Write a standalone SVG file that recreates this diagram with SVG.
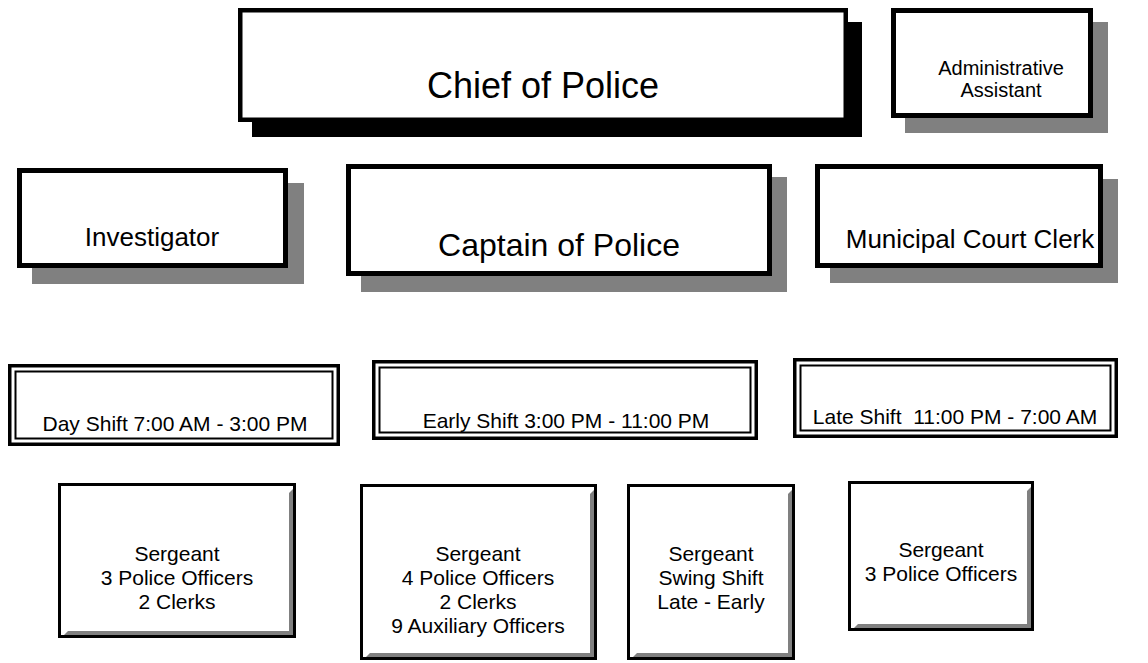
<svg xmlns="http://www.w3.org/2000/svg" width="1148" height="663" viewBox="0 0 1148 663">
<style>
text{font-family:"Liberation Sans",Arial,sans-serif;fill:#000;text-anchor:middle}
.box{fill:#fff;stroke:#000}
.sh{fill:#808080}
.shk{fill:#000}
.b5{stroke-width:5}
.b4{stroke-width:4.5}
.dbl{fill:#fff;stroke:#000;stroke-width:3.5}
.dbli{fill:none;stroke:#000;stroke-width:2}
.sg{fill:#fff;stroke:#000;stroke-width:3}
.f36{font-size:36px}.f32{font-size:32px}.f26{font-size:26px}.f21{font-size:21px}.f20{font-size:20px}
</style>
<rect width="1148" height="663" fill="#fff"/>
<g id="connectors"></g>
<g id="chief">
<rect class="shk" x="252" y="22" width="610" height="115"/>
<rect class="box b4" x="240.25" y="10.25" width="605.5" height="109.5"/>
<text class="f36" x="543" y="98">Chief of Police</text>
</g>
<g id="admin">
<rect class="sh" x="905" y="22" width="203" height="111"/>
<rect class="box b5" x="893.5" y="10.5" width="197" height="105"/>
<text class="f20" x="1001" y="75">Administrative</text>
<text class="f20" x="1001" y="97">Assistant</text>
</g>
<g id="investigator">
<rect class="sh" x="32" y="183" width="272" height="101"/>
<rect class="box b5" x="19.5" y="170.5" width="266" height="95"/>
<text class="f26" x="152" y="246">Investigator</text>
</g>
<g id="captain">
<rect class="sh" x="361" y="177" width="426" height="115"/>
<rect class="box b5" x="348.5" y="166.5" width="421" height="107"/>
<text class="f32" x="559" y="256">Captain of Police</text>
</g>
<g id="clerk">
<rect class="sh" x="830" y="179" width="288" height="104"/>
<rect class="box b5" x="817.5" y="166.5" width="283" height="99"/>
<text class="f26" x="970" y="248">Municipal Court Clerk</text>
</g>
<g id="day">
<rect class="dbl" x="9.75" y="365.75" width="328.5" height="78.5"/>
<rect class="dbli" x="15.5" y="371.5" width="317" height="67"/>
<text class="f21" x="175" y="431">Day Shift 7:00 AM - 3:00 PM</text>
</g>
<g id="early">
<rect class="dbl" x="373.75" y="361.75" width="382.5" height="76.5"/>
<rect class="dbli" x="379.5" y="367.5" width="371" height="65"/>
<text class="f21" x="566" y="428">Early Shift 3:00 PM - 11:00 PM</text>
</g>
<g id="late">
<rect class="dbl" x="794.75" y="359.75" width="321.5" height="76.5"/>
<rect class="dbli" x="800.5" y="365.5" width="310" height="65"/>
<text class="f21" x="955" y="424" xml:space="preserve">Late Shift  11:00 PM - 7:00 AM</text>
</g>
<g id="sgt1">
<rect class="sg" x="59.5" y="484.5" width="235" height="152"/>
<path class="sh" d="M293,489 V635 H64 L68,631 H289 V493 Z"/>
<text class="f21" x="177" y="561">Sergeant</text>
<text class="f21" x="177" y="585">3 Police Officers</text>
<text class="f21" x="177" y="609">2 Clerks</text>
</g>
<g id="sgt2">
<rect class="sg" x="361.5" y="485.5" width="234" height="173"/>
<path class="sh" d="M594,490 V657 H366 L370,653 H590 V494 Z"/>
<text class="f21" x="478" y="561">Sergeant</text>
<text class="f21" x="478" y="585">4 Police Officers</text>
<text class="f21" x="478" y="609">2 Clerks</text>
<text class="f21" x="478" y="633">9 Auxiliary Officers</text>
</g>
<g id="sgt3">
<rect class="sg" x="628.5" y="485.5" width="165" height="173"/>
<path class="sh" d="M792,490 V657 H633 L637,653 H788 V494 Z"/>
<text class="f21" x="711" y="561">Sergeant</text>
<text class="f21" x="711" y="585">Swing Shift</text>
<text class="f21" x="711" y="609">Late - Early</text>
</g>
<g id="sgt4">
<rect class="sg" x="849.5" y="482.5" width="183" height="147"/>
<path class="sh" d="M1031,487 V628 H854 L858,624 H1027 V491 Z"/>
<text class="f21" x="941" y="557">Sergeant</text>
<text class="f21" x="941" y="581">3 Police Officers</text>
</g>
</svg>
